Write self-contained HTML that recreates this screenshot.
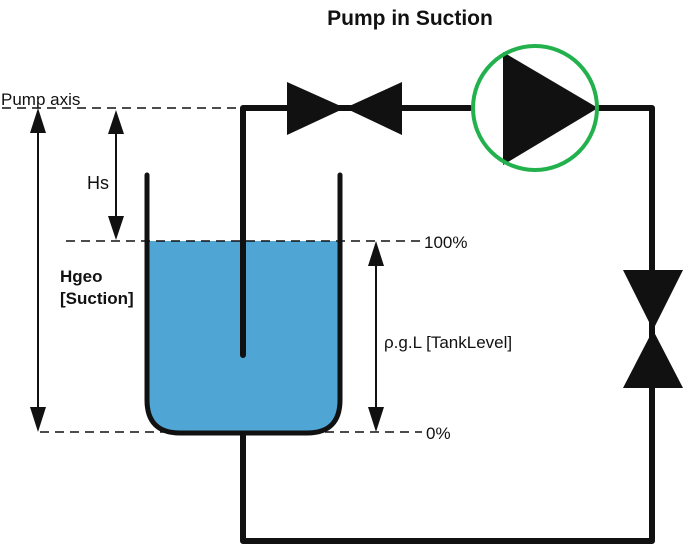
<!DOCTYPE html>
<html><head><style>body{margin:0;background:#fff}svg{display:block}text{font-family:"Liberation Sans",sans-serif}</style></head><body>
<svg width="685" height="546" viewBox="0 0 685 546">
<text x="410" y="25" font-size="21" font-weight="bold" text-anchor="middle" fill="#111">Pump in Suction</text>
<path d="M147,241 H340 V400 Q340,433 307,433 H180 Q147,433 147,400 Z" fill="#4fa5d3"/>
<g stroke="#111" stroke-width="1.5" stroke-dasharray="9,6" fill="none">
<line x1="2" y1="108" x2="240" y2="108"/>
<line x1="66" y1="241" x2="422" y2="241"/>
<line x1="40" y1="432" x2="422" y2="432"/>
</g>
<text x="1" y="105" font-size="17" fill="#111">Pump axis</text>
<text x="424" y="248" font-size="17" fill="#111">100%</text>
<text x="426" y="439" font-size="17" fill="#111">0%</text>
<text x="87" y="189" font-size="18" fill="#111">Hs</text>
<text x="60" y="282" font-size="17" font-weight="bold" fill="#111">Hgeo</text>
<text x="60" y="304" font-size="17" font-weight="bold" fill="#111">[Suction]</text>
<text x="384" y="348" font-size="17" fill="#111">ρ.g.L [TankLevel]</text>
<g stroke="#111" stroke-width="2">
<line x1="38" y1="125" x2="38" y2="415"/>
<line x1="116" y1="125" x2="116" y2="224"/>
<line x1="376" y1="258" x2="376" y2="415"/>
</g>
<g fill="#111">
<polygon points="38,108 30,133 46,133"/><polygon points="38,432 30,407 46,407"/>
<polygon points="116,110 108,134 124,134"/><polygon points="116,240 108,216 124,216"/>
<polygon points="376,241 368,266 384,266"/><polygon points="376,432 368,407 384,407"/>
</g>
<path d="M147,175 V400 Q147,433 180,433 H307 Q340,433 340,400 V175" fill="none" stroke="#111" stroke-width="5" stroke-linecap="round"/>
<path d="M243,355 V108 H470" fill="none" stroke="#111" stroke-width="6" stroke-linecap="round" stroke-linejoin="round"/>
<path d="M243,433 V541 H652 V108 H598" fill="none" stroke="#111" stroke-width="6" stroke-linejoin="round"/>
<g fill="#111">
<polygon points="287,82 287,135 345,108"/><polygon points="402,82 402,135 345,108"/>
<polygon points="623,270 683,270 653,330"/><polygon points="623,388 683,388 653,330"/>
<polygon points="503,52 503,165 598,108"/>
</g>
<circle cx="535" cy="108" r="62" fill="none" stroke="#22b14c" stroke-width="4"/>
</svg>
</body></html>
